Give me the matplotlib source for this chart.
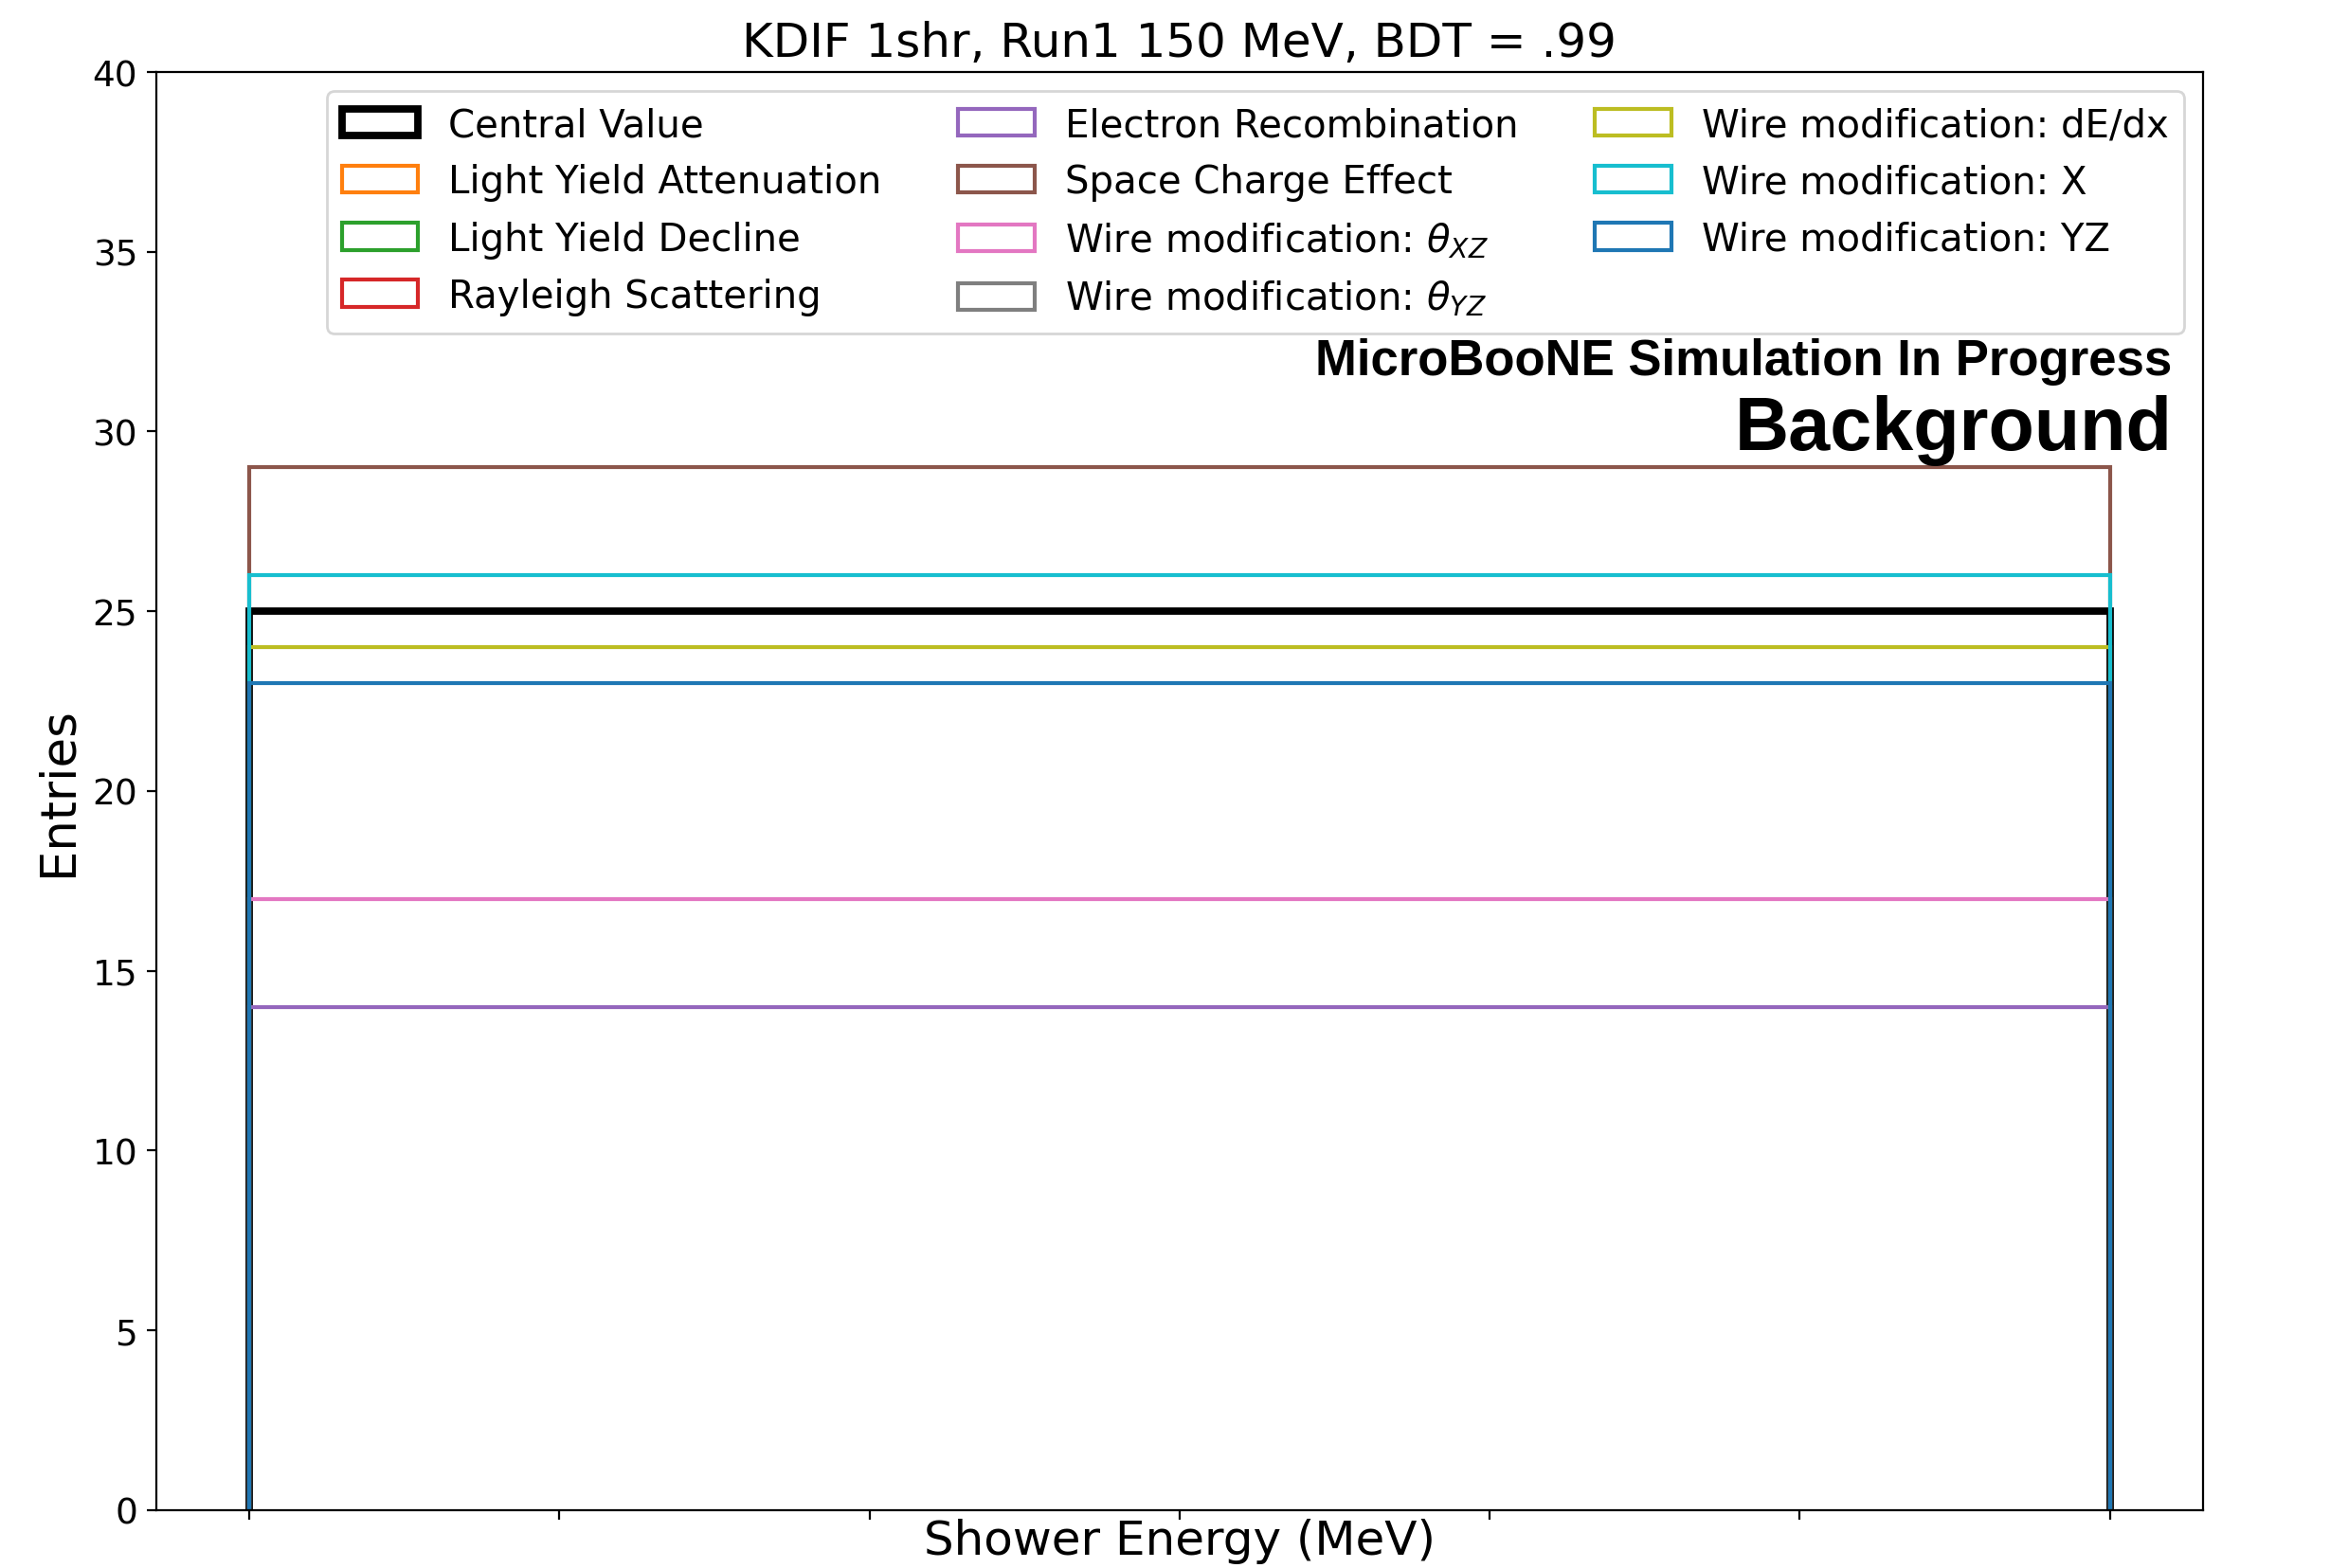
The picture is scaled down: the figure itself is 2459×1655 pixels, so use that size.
import numpy as np
import matplotlib
matplotlib.use("Agg")
import matplotlib.pyplot as plt

# single shower-energy bin, one entry count per detector variation
bin_edges = [0, 300]
bin_center = [150]

central_label = "Central Value"
central_count = 25

var_labels = [
    "Light Yield Attenuation",
    "Light Yield Decline",
    "Rayleigh Scattering",
    "Electron Recombination",
    "Space Charge Effect",
    r"Wire modification: $\theta_{XZ}$",
    r"Wire modification: $\theta_{YZ}$",
    "Wire modification: dE/dx",
    "Wire modification: X",
    "Wire modification: YZ",
]
var_counts = [25, 25, 25, 14, 29, 17, 25, 24, 26, 23]
var_colors = ["tab:orange", "tab:green", "tab:red", "tab:purple", "tab:brown",
              "tab:pink", "tab:gray", "tab:olive", "tab:cyan", "tab:blue"]

# variations identical to the CV go underneath it
same_as_cv = [i for i, c in enumerate(var_counts) if c == central_count]
others = [i for i in range(len(var_counts)) if i not in same_as_cv]

fig = plt.figure(figsize=(2459 / 200, 1656 / 200), dpi=200)
ax = fig.add_axes([0.067, 0.037, 0.8785, 0.9165])

handles = {}
for i in same_as_cv:
    _, _, p = ax.hist(bin_center, bins=bin_edges, weights=[var_counts[i]], histtype="step",
                      color=var_colors[i], linewidth=1.5, label=var_labels[i])
    handles[i] = p[0]

_, _, p_cv = ax.hist(bin_center, bins=bin_edges, weights=[central_count], histtype="step",
                     color="black", linewidth=2.8, label=central_label)

for i in others:
    _, _, p = ax.hist(bin_center, bins=bin_edges, weights=[var_counts[i]], histtype="step",
                      color=var_colors[i], linewidth=1.5, label=var_labels[i])
    handles[i] = p[0]

leg_handles = [p_cv[0]] + [handles[i] for i in range(len(var_labels))]
leg_labels = [central_label] + var_labels
ax.legend(leg_handles, leg_labels, loc="upper right", ncol=3, fontsize=14.5)

ax.set_ylim(0, 40)
ax.set_xticks(np.linspace(bin_edges[0], bin_edges[-1], 7))
ax.set_xticklabels([])
ax.tick_params(axis="y", labelsize=13.5)

ax.set_title("KDIF 1shr, Run1 150 MeV, BDT = .99", fontsize=18)
ax.set_xlabel("Shower Energy (MeV)", fontsize=18, labelpad=-4)
ax.set_ylabel("Entries", fontsize=18.5)

ax.text(0.985, 0.79, "MicroBooNE Simulation In Progress", transform=ax.transAxes,
        ha="right", va="baseline", fontsize=19, fontweight="bold", family="Liberation Sans")
ax.text(0.985, 0.738, "Background", transform=ax.transAxes,
        ha="right", va="baseline", fontsize=28.5, fontweight="bold", family="Liberation Sans")

fig.savefig("out.png", dpi=200)
